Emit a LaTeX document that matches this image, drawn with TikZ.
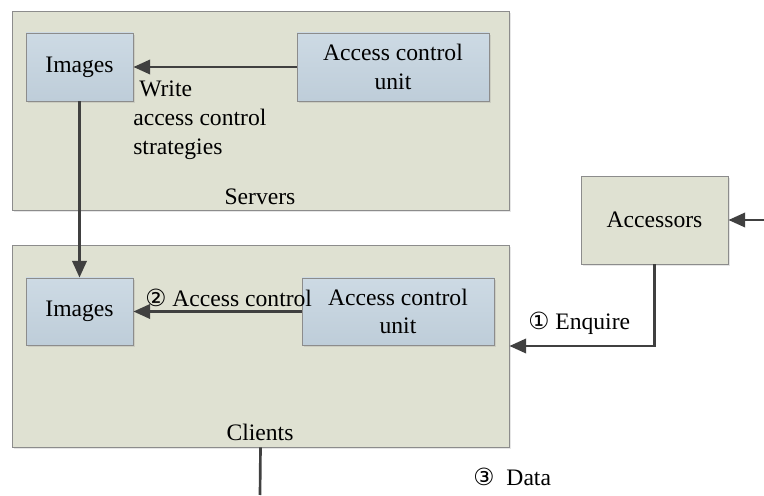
\documentclass[tikz,border=0pt]{standalone}
\usepackage{fontspec}
\setmainfont{Liberation Serif}
\newfontfamily\circfont{DejaVu Sans}
\usetikzlibrary{arrows.meta,shadows}
\definecolor{panelfill}{RGB}{223,225,210}
\definecolor{boxtop}{RGB}{205,218,228}
\definecolor{boxbottom}{RGB}{190,205,217}
\definecolor{linegray}{RGB}{64,64,64}
\definecolor{bordergray}{RGB}{140,140,140}

\begin{document}
\begin{tikzpicture}
    \useasboundingbox (0,0) rectangle (19.1,12.375);
    \tikzstyle{every node}=[font=\fontsize{16.8}{20.5}\selectfont, text=black]
    \tikzstyle{panel}=[rectangle, fill=panelfill, draw=bordergray, line width=0.6pt, drop shadow={shadow xshift=1.5pt, shadow yshift=-1.5pt, opacity=0.2}]
    \tikzstyle{unit}=[rectangle, top color=boxtop, bottom color=boxbottom, draw=bordergray, line width=0.6pt, align=center, drop shadow={shadow xshift=1.5pt, shadow yshift=-1.5pt, opacity=0.2}]
    \tikzstyle{label}=[inner sep=0pt, align=left]
    \tikzstyle{edge}=[linegray, line width=1.9pt, -{Triangle[length=0.42cm, width=0.36cm]}]

    % server and client panels
    \node[panel, minimum width=12.425cm, minimum height=4.975cm] (servers) at (6.5125,9.6125) {};
    \node[panel, minimum width=12.425cm, minimum height=5.05cm] (clients) at (6.5125,3.725) {};
    \node[label] (serverstxt) at (6.5,7.45) {Servers};
    \node[label] (clientstxt) at (6.5,1.575) {Clients};

    \node[unit, minimum width=2.675cm, minimum height=1.7cm] (imgS) at (1.9875,10.7) {Images};
    \node[unit, minimum width=4.8cm, minimum height=1.7cm] (acuS) at (9.825,10.7) {Access control\\unit};
    \node[unit, minimum width=2.675cm, minimum height=1.675cm] (imgC) at (1.9875,4.5875) {Images};
    \node[unit, minimum width=4.8cm, minimum height=1.675cm] (acuC) at (9.95,4.5875) {Access control\\unit};
    \node[panel, minimum width=3.675cm, minimum height=2.2cm] (acc) at (16.3625,6.875) {Accessors};

    \node[label, anchor=west] (write) at (3.325,9.375) {\hspace{0.15cm}Write\\access control\\strategies};
    \node[label, anchor=west] (ctrl) at (3.625,4.925) {{\circfont ②} Access control};
    \node[label, anchor=west] (enq) at (13.2,4.3) {{\circfont ①} Enquire};
    \node[label, anchor=west] (data) at (11.825,0.45) {{\circfont ③}\hspace{0.3cm}Data};

    \coordinate (feed) at (19.1,6.875);
    \coordinate (out) at (6.5,0);

    \draw[edge] (acuS) -- (imgS);
    \draw[edge] (imgS) -- (imgC);
    \draw[edge] (acuC) -- (imgC);
    \draw[edge] (acc.south) |- (clients.east);
    \draw[edge] (feed) -- (acc);
    \draw[edge, -] (clients.south) -- (out);
\end{tikzpicture}
\end{document}
